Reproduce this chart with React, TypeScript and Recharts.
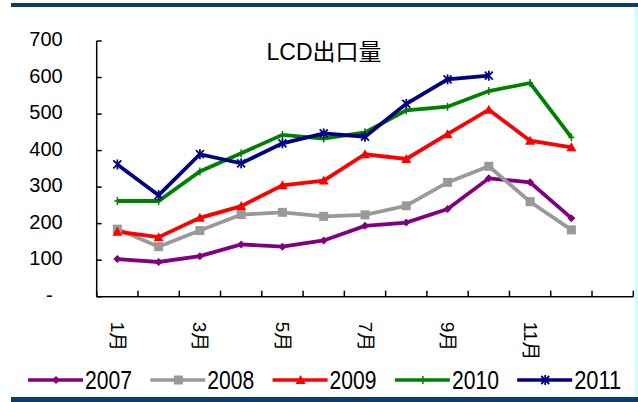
import { LineChart, Line, XAxis, YAxis, Legend } from "recharts";

const months = ["1月", "2月", "3月", "4月", "5月", "6月", "7月", "8月", "9月", "10月", "11月", "12月", ""];
const years = ["2007", "2008", "2009", "2010", "2011"];
const s2007 = [103, 95, 111, 143, 137, 154, 194, 203, 240, 324, 313, 215];
const s2008 = [185, 137, 181, 225, 231, 220, 224, 249, 313, 357, 260, 183];
const s2009 = [178, 163, 216, 248, 305, 318, 390, 377, 445, 512, 427, 409];
const s2010 = [262, 262, 343, 393, 443, 433, 450, 510, 520, 563, 585, 436];
const s2011 = [362, 278, 390, 365, 420, 447, 438, 528, 595, 605];
const yTicks = [0, 100, 200, 300, 400, 500, 600, 700];

const colors = ["#800080", "#999999", "#ff0000", "#008000", "#000080"];
const markers = ["diamond", "square", "triangle", "dash", "star"];
const allSeries = [s2007, s2008, s2009, s2010, s2011];

const data = months.map((month, i) => {
  const row: any = { month };
  years.forEach((y, k) => {
    row["y" + y] = allSeries[k][i] ?? null;
  });
  return row;
});

const W = 638;
const H = 402;
const BAND = 41.28;

function marker(kind: string, cx: number, cy: number, color: string, key?: any) {
  switch (kind) {
    case "diamond":
      return <polygon key={key} points={`${cx},${cy - 4} ${cx + 4},${cy} ${cx},${cy + 4} ${cx - 4},${cy}`} fill={color} />;
    case "square":
      return <rect key={key} x={cx - 4.5} y={cy - 4.5} width={9} height={9} fill={color} />;
    case "triangle":
      return <polygon key={key} points={`${cx},${cy - 5} ${cx + 5},${cy + 4} ${cx - 5},${cy + 4}`} fill={color} />;
    case "dash":
      return (
        <g key={key} stroke={color} strokeWidth={1.5}>
          <line x1={cx} y1={cy - 4} x2={cx} y2={cy + 4} />
          <line x1={cx - 3} y1={cy} x2={cx + 3} y2={cy} />
        </g>
      );
    default:
      return (
        <g key={key} stroke={color} strokeWidth={1.8}>
          <line x1={cx - 4} y1={cy - 4} x2={cx + 4} y2={cy + 4} />
          <line x1={cx - 4} y1={cy + 4} x2={cx + 4} y2={cy - 4} />
          <line x1={cx} y1={cy - 5} x2={cx} y2={cy + 5} />
        </g>
      );
  }
}

function makeDot(k: number) {
  return (props: any) => {
    const { cx, cy, index, value } = props;
    if (cx == null || cy == null || value == null) return <g key={`e-${k}-${index}`} />;
    return marker(markers[k], cx, cy, colors[k], `d-${k}-${index}`);
  };
}

function YTick(props: any) {
  const { x, y, payload } = props;
  const v = payload.value;
  return (
    <g>
      <line x1={x} y1={y} x2={x + 5} y2={y} stroke="#000" strokeWidth={1.5} />
      <text x={v === 0 ? x - 44 : x - 34} y={y - 2} textAnchor="end" dominantBaseline="central" fontSize={20} fill="#000" fontFamily="'Liberation Sans', Arial, sans-serif">
        {v === 0 ? "-" : v}
      </text>
    </g>
  );
}

function XTick(props: any) {
  const { x, y, payload, index } = props;
  const i = index ?? payload.index;
  const left = x - BAND / 2;
  return (
    <g>
      <line x1={left} y1={y} x2={left} y2={y - 6} stroke="#000" strokeWidth={1.5} />
      {i === months.length - 1 && <line x1={x + BAND / 2} y1={y} x2={x + BAND / 2} y2={y - 6} stroke="#000" strokeWidth={1.5} />}
      {i % 2 === 0 && payload.value !== "" && (
        <text transform={`translate(${x}, ${y + 25}) rotate(90)`} textAnchor="start" dominantBaseline="central" fontSize={19} fill="#000" fontFamily="'Liberation Sans', 'Noto Sans CJK SC', sans-serif">
          {payload.value}
        </text>
      )}
    </g>
  );
}

function LegendContent() {
  return (
    <svg width={W} height={30} style={{ overflow: "visible" }}>
      {years.map((y, k) => {
        const x0 = 28 + k * 122.3;
        return (
          <g key={y}>
            <line x1={x0} y1={14} x2={x0 + 55} y2={14} stroke={colors[k]} strokeWidth={3.5} />
            {marker(markers[k], x0 + 28, 14, colors[k])}
            <text x={x0 + 57} y={23} fontSize={26} textLength={47} lengthAdjust="spacingAndGlyphs" fill="#000" fontFamily="'Liberation Sans', Arial, sans-serif">
              {y}
            </text>
          </g>
        );
      })}
    </svg>
  );
}

export default function App() {
  return (
    <div style={{ position: "absolute", left: 0, top: 0, width: W, height: H, background: "#fff" }}>
      <div style={{ position: "absolute", left: 11, top: 3, width: W - 11, height: 4, background: "#0a3d6e" }} />
      <div style={{ position: "absolute", left: 11, top: 397, width: W - 11, height: 5, background: "#0a3d6e" }} />
      <div style={{ position: "absolute", left: 635, top: 7, width: 3, height: 390, background: "#ccffff" }} />
      <LineChart width={W} height={H} data={data} margin={{ top: 41, right: 4.7, bottom: 45.3, left: 36.7 }}>
        <text x={324} y={60} textAnchor="middle" fontSize={23} fill="#000" fontFamily="'Liberation Sans', 'Noto Sans CJK SC', sans-serif">
          LCD出口量
        </text>
        <XAxis dataKey="month" scale="band" interval={0} height={60} tickSize={0} tickMargin={0} tickLine={false} axisLine={{ stroke: "#000", strokeWidth: 1.5 }} tick={<XTick />} />
        <YAxis width={60} domain={[0, 700]} ticks={yTicks} tickSize={0} tickMargin={0} tickLine={false} axisLine={{ stroke: "#000", strokeWidth: 1.5 }} tick={<YTick />} />
        <Legend layout="horizontal" verticalAlign="middle" align="center" content={<LegendContent />} wrapperStyle={{ top: 366, left: 0, width: W }} />
        {years.map((y, k) => (
          <Line key={y} dataKey={"y" + y} stroke={colors[k]} strokeWidth={3.8} dot={makeDot(k)} activeDot={false} isAnimationActive={false} />
        ))}
      </LineChart>
    </div>
  );
}
